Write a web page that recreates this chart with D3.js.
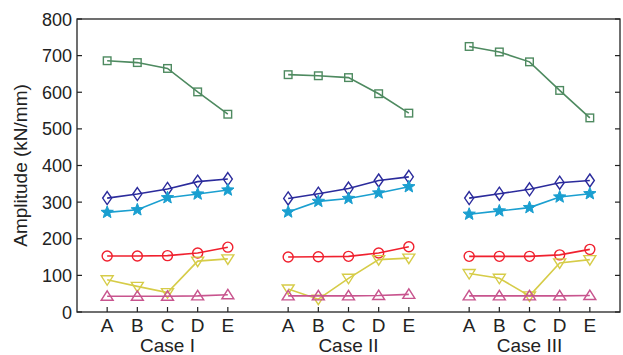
<!DOCTYPE html>
<html>
<head>
<meta charset="utf-8">
<script src="https://cdn.jsdelivr.net/npm/d3@7"></script>
<style>
  body { margin: 0; background: #fff; }
  svg text { font-family: "Liberation Sans", Arial, sans-serif; fill: #222; }
</style>
</head>
<body>
<svg id="chart" width="623" height="355"></svg>
<script>
// data
var cases = ["Case I", "Case II", "Case III"];
var letters = ["A", "B", "C", "D", "E"];
var yTicks = [0, 100, 200, 300, 400, 500, 600, 700, 800];

var greenSquare  = [[686, 681, 665, 601, 540], [648, 645, 640, 596, 543], [725, 710, 683, 605, 530]];
var blueDiamond  = [[311, 322, 336, 356, 363], [310, 323, 337, 359, 369], [311, 323, 335, 353, 359]];
var cyanStar     = [[272, 279, 312, 322, 333], [273, 302, 310, 325, 342], [267, 276, 285, 314, 323]];
var redCircle    = [[153, 153, 154, 161, 177], [150, 151, 152, 161, 178], [152, 152, 152, 156, 171]];
var yellowDown   = [[88, 70, 53, 139, 145], [63, 35, 92, 143, 147], [105, 92, 44, 134, 143]];
var magentaUp    = [[43, 43, 43, 44, 47], [44, 44, 44, 45, 48], [44, 44, 44, 44, 45]];

var series = [
  { vals: greenSquare, color: "#4e8a60", shape: "square" },
  { vals: blueDiamond, color: "#2b2b9c", shape: "diamond" },
  { vals: cyanStar, color: "#1a9fd0", shape: "star" },
  { vals: redCircle, color: "#f0202e", shape: "circle" },
  { vals: yellowDown, color: "#d6cc48", shape: "down" },
  { vals: magentaUp, color: "#c8548e", shape: "up" }
];

var svg = d3.select("#chart");
var plotLeft = 77, plotRight = 620, plotTop = 19, plotBottom = 312;

// x index: group g, letter i -> g*6 + i + 1
var x = d3.scaleLinear().domain([0, 18]).range([plotLeft, plotRight]);
var y = d3.scaleLinear().domain([0, 800]).range([plotBottom, plotTop]);

function xi(g, i) { return x(g * 6 + i + 1); }

// frame
svg.append("rect")
  .attr("x", plotLeft).attr("y", plotTop)
  .attr("width", plotRight - plotLeft).attr("height", plotBottom - plotTop)
  .attr("fill", "none").attr("stroke", "#222").attr("stroke-width", 1.3);

// y ticks left and right
yTicks.forEach(function(t) {
  svg.append("line").attr("x1", plotLeft).attr("x2", plotLeft + 5)
    .attr("y1", y(t)).attr("y2", y(t)).attr("stroke", "#222").attr("stroke-width", 1.2);
  svg.append("line").attr("x1", plotRight).attr("x2", plotRight - 5)
    .attr("y1", y(t)).attr("y2", y(t)).attr("stroke", "#222").attr("stroke-width", 1.2);
  svg.append("text").attr("x", plotLeft - 5).attr("y", y(t) + 6.5)
    .attr("text-anchor", "end").attr("font-size", 18).text(t);
});

// x ticks and labels
cases.forEach(function(c, g) {
  letters.forEach(function(l, i) {
    svg.append("line").attr("x1", xi(g, i)).attr("x2", xi(g, i))
      .attr("y1", plotBottom).attr("y2", plotBottom - 5).attr("stroke", "#222").attr("stroke-width", 1.2);
    svg.append("text").attr("x", xi(g, i)).attr("y", 332)
      .attr("text-anchor", "middle").attr("font-size", 19).text(l);
  });
  svg.append("text").attr("x", xi(g, 2)).attr("y", 352)
    .attr("text-anchor", "middle").attr("font-size", 19).text(c);
});

// y label
svg.append("text")
  .attr("transform", "translate(27," + ((plotTop + plotBottom) / 2) + ") rotate(-90)")
  .attr("text-anchor", "middle").attr("font-size", 19)
  .text("Amplitude (kN/mm)");

var line = d3.line().x(function(d) { return d[0]; }).y(function(d) { return d[1]; });

function marker(g, shape, color, cx, cy) {
  var s = 3.8;
  var p;
  if (shape === "square") {
    g.append("rect").attr("x", cx - s).attr("y", cy - s).attr("width", 2 * s).attr("height", 2 * s)
      .attr("fill", "none").attr("stroke", color).attr("stroke-width", 1.4);
    return;
  }
  if (shape === "circle") {
    g.append("circle").attr("cx", cx).attr("cy", cy).attr("r", 5)
      .attr("fill", "none").attr("stroke", color).attr("stroke-width", 1.4);
    return;
  }
  if (shape === "diamond") {
    p = [[cx, cy - 6.5], [cx + 4.5, cy], [cx, cy + 6.5], [cx - 4.5, cy]];
  } else if (shape === "down") {
    p = [[cx - 6, cy - 4], [cx + 6, cy - 4], [cx, cy + 5.5]];
  } else if (shape === "up") {
    p = [[cx - 6, cy + 4], [cx + 6, cy + 4], [cx, cy - 5.5]];
  } else if (shape === "star") {
    p = [];
    for (var k = 0; k < 10; k++) {
      var r = k % 2 === 0 ? 6.5 : 2.8;
      var a = -Math.PI / 2 + k * Math.PI / 5;
      p.push([cx + r * Math.cos(a), cy + r * Math.sin(a)]);
    }
  }
  g.append("path").attr("d", "M" + p.join("L") + "Z")
    .attr("fill", shape === "star" ? color : "none")
    .attr("stroke", color).attr("stroke-width", shape === "star" ? 1 : 1.4).attr("stroke-linejoin", "miter");
}

series.forEach(function(s) {
  var gs = svg.append("g");
  s.vals.forEach(function(vals, g) {
    var pts = vals.map(function(v, i) { return [xi(g, i), y(v)]; });
    gs.append("path").attr("d", line(pts)).attr("fill", "none")
      .attr("stroke", s.color).attr("stroke-width", 1.6);
    pts.forEach(function(pt) { marker(gs, s.shape, s.color, pt[0], pt[1]); });
  });
});
</script>
</body>
</html>
